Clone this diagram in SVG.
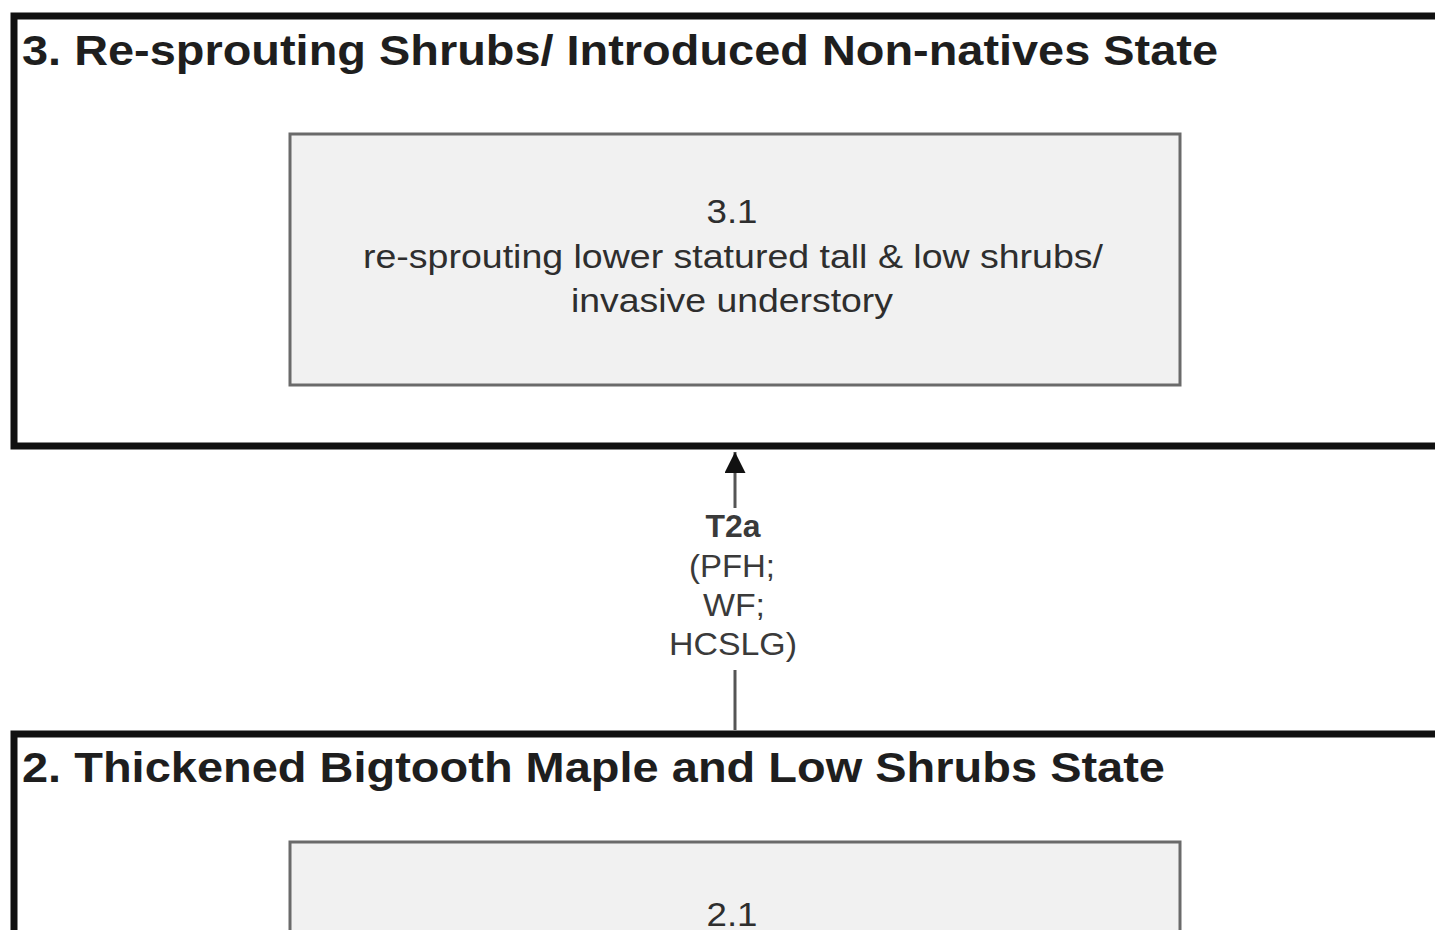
<svg xmlns="http://www.w3.org/2000/svg" width="1435" height="930" viewBox="0 0 1435 930">
<style>
.state{fill:#ffffff;stroke:#111111;stroke-width:7}
.title{font-family:"Liberation Sans",Arial,sans-serif;font-weight:bold;font-size:42px;fill:#1e1e1e}
.phase{fill:#f1f1f1;stroke:#6a6a6a;stroke-width:3}
.ptxt{font-family:"Liberation Sans",Arial,sans-serif;font-size:34px;fill:#2e2e2e;text-anchor:middle}
.conn{stroke:#555555;stroke-width:3;fill:none}
.lbl{font-family:"Liberation Sans",Arial,sans-serif;font-size:31px;fill:#3a3a3a;text-anchor:middle}
</style>
<defs>
<marker id="ah" markerWidth="7" markerHeight="7" refX="7" refY="3.5" orient="auto" markerUnits="strokeWidth">
<path d="M0,0 L7,3.5 L0,7 z" fill="#111111"/>
</marker>
</defs>
<rect width="1435" height="930" fill="#ffffff"/>
<g id="state3">
<rect class="state" x="14" y="16" width="1440" height="430"/>
<text class="title" x="22" y="65" textLength="1196" lengthAdjust="spacingAndGlyphs">3. Re-sprouting Shrubs/ Introduced Non-natives State</text>
</g>
<g id="phase31">
<rect class="phase" x="290" y="134" width="890" height="251"/>
<text class="ptxt" x="732" y="223" textLength="51" lengthAdjust="spacingAndGlyphs">3.1</text>
<text class="ptxt" x="733" y="268" textLength="740" lengthAdjust="spacingAndGlyphs">re-sprouting lower statured tall &amp; low shrubs/</text>
<text class="ptxt" x="732" y="312" textLength="322" lengthAdjust="spacingAndGlyphs">invasive understory</text>
</g>
<g id="state2">
<rect class="state" x="14" y="734" width="1440" height="300"/>
<text class="title" x="22" y="782" textLength="1143" lengthAdjust="spacingAndGlyphs">2. Thickened Bigtooth Maple and Low Shrubs State</text>
</g>
<g id="phase21">
<rect class="phase" x="290" y="842" width="890" height="200"/>
<text class="ptxt" x="732" y="926" textLength="51" lengthAdjust="spacingAndGlyphs">2.1</text>
</g>
<g id="connectors">
<line class="conn" x1="735" y1="730" x2="735" y2="670"/>
<path class="conn" d="M735,508 L735,452" marker-end="url(#ah)"/>
<g id="t2a-label">
<text class="lbl" x="733" y="537" font-weight="bold" fill="#1a1a1a" font-size="28" textLength="55" lengthAdjust="spacingAndGlyphs">T2a</text>
<text class="lbl" x="732" y="577" textLength="86" lengthAdjust="spacingAndGlyphs">(PFH;</text>
<text class="lbl" x="734" y="616" textLength="62" lengthAdjust="spacingAndGlyphs">WF;</text>
<text class="lbl" x="733" y="655" textLength="128" lengthAdjust="spacingAndGlyphs">HCSLG)</text>
</g>
</g>
</svg>
